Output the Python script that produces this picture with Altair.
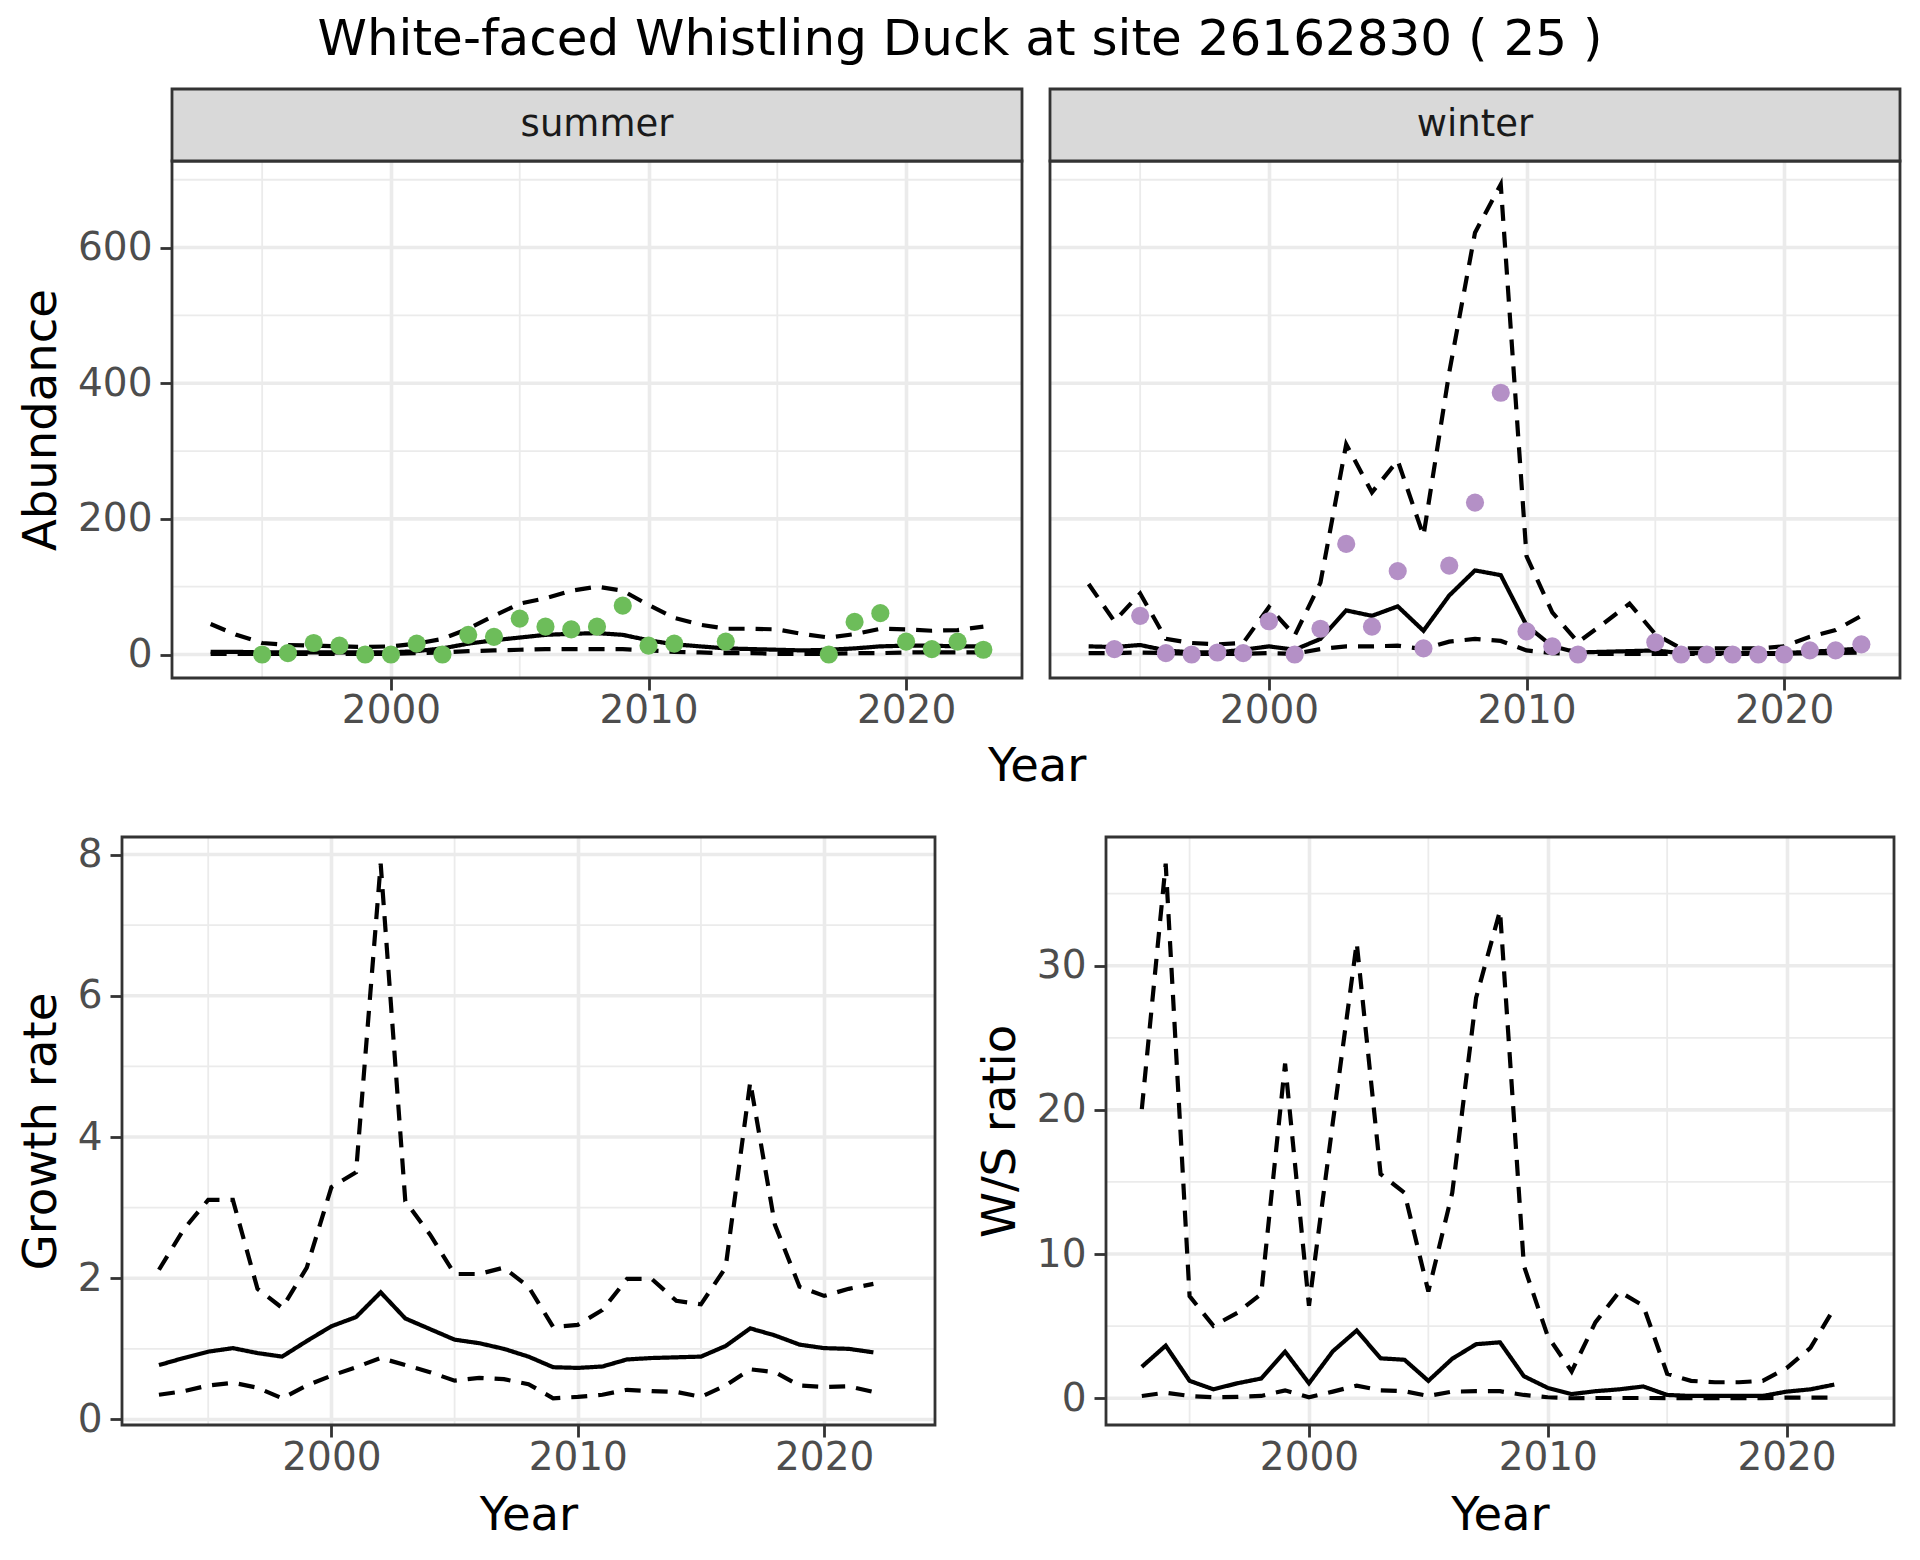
import altair as alt
import pandas as pd

FONT = "DejaVu Sans"

# ---------------- data ----------------
years = list(range(1993, 2024))

summer_mid = [4, 4, 3, 3, 3, 3, 3, 3, 5, 9, 16, 21, 25, 29, 30.5, 31.5, 29, 21, 15, 12,
              9, 8, 7, 6, 7, 9, 12, 13, 13, 12, 12]
summer_lo = [1, 1, 1, 1, 1, 1, 1, 1, 2, 3, 5, 6, 7, 8, 8, 8, 8, 6, 4, 3,
             2, 2, 1, 1, 1, 2, 2, 3, 3, 3, 3]
summer_hi = [45, 29, 17, 14, 13, 12, 11, 12, 16, 23, 38, 57, 75, 83, 94, 100, 94, 73, 54, 44,
             38, 38, 37, 30, 25, 30, 38, 37, 35, 36, 41]
summer_obs_years = [1995, 1996, 1997, 1998, 1999, 2000, 2001, 2002, 2003, 2004, 2005, 2006,
                    2007, 2008, 2009, 2010, 2011, 2013, 2017, 2018, 2019, 2020, 2021, 2022, 2023]
summer_obs = [0, 2, 17, 13, 0, 0, 16, 0, 29, 26, 53, 41, 37, 41, 72, 13, 16, 19, 0, 48, 61,
              19, 8, 19, 7]

winter_mid = [12, 11, 14, 6, 3, 3, 7, 12, 7, 23, 65, 57, 71, 35, 87, 124, 117, 43, 12, 3,
              4, 5, 6, 2, 2, 2, 2, 2, 4, 6, 9]
winter_lo = [2, 2, 3, 2, 1, 1, 1, 2, 1, 8, 12, 12, 13, 8, 19, 23, 20, 6, 2, 1,
             1, 1, 1, 1, 1, 1, 1, 1, 2, 2, 3]
winter_hi = [104, 49, 90, 23, 17, 15, 17, 70, 28, 106, 310, 239, 286, 175, 416, 622, 693, 145,
             62, 18, 46, 75, 30, 9, 9, 9, 9, 12, 26, 36, 57]
winter_obs_years = [1994, 1995, 1996, 1997, 1998, 1999, 2000, 2001, 2002, 2003, 2004, 2005,
                    2006, 2007, 2008, 2009, 2010, 2011, 2012, 2015, 2016, 2017, 2018, 2019,
                    2020, 2021, 2022, 2023]
winter_obs = [8, 57, 2, 0, 3, 2, 49, 0, 38, 163, 41, 123, 9, 131, 224, 386, 34, 12, 0,
              18, 0, 0, 0, 0, 0, 6, 6, 15]

rate_years = list(range(1993, 2023))
growth_mid = [0.77, 0.87, 0.96, 1.01, 0.94, 0.89, 1.11, 1.32, 1.45, 1.80, 1.43, 1.28, 1.13,
              1.08, 1.00, 0.89, 0.74, 0.73, 0.75, 0.85, 0.87, 0.88, 0.89, 1.04, 1.29, 1.19,
              1.06, 1.01, 1.00, 0.95]
growth_hi = [2.12, 2.69, 3.11, 3.11, 1.85, 1.58, 2.15, 3.29, 3.50, 7.87, 3.09, 2.62, 2.06,
             2.06, 2.15, 1.88, 1.31, 1.34, 1.55, 1.99, 1.99, 1.68, 1.63, 2.15, 4.78, 2.76,
             1.88, 1.75, 1.85, 1.92]
growth_lo = [0.35, 0.40, 0.48, 0.52, 0.45, 0.30, 0.48, 0.62, 0.74, 0.87, 0.77, 0.67, 0.55,
             0.59, 0.57, 0.50, 0.30, 0.32, 0.35, 0.42, 0.40, 0.39, 0.32, 0.48, 0.71, 0.67,
             0.48, 0.46, 0.47, 0.39]

ws_mid = [2.18, 3.65, 1.21, 0.62, 1.04, 1.37, 3.23, 1.04, 3.26, 4.70, 2.77, 2.67, 1.21, 2.74,
          3.75, 3.88, 1.53, 0.72, 0.29, 0.49, 0.62, 0.82, 0.23, 0.16, 0.16, 0.16, 0.16, 0.46,
          0.62, 0.95]
ws_hi = [20.05, 37.07, 7.08, 5.02, 5.93, 7.24, 23.21, 6.42, 19.14, 31.59, 15.55, 14.25, 7.40,
         14.25, 27.78, 33.81, 9.19, 4.30, 1.86, 5.28, 7.40, 6.42, 1.70, 1.21, 1.11, 1.11, 1.21,
         2.09, 3.49, 6.26]
ws_lo = [0.16, 0.39, 0.16, 0.07, 0.10, 0.16, 0.55, 0.07, 0.46, 0.88, 0.55, 0.49, 0.16, 0.46,
         0.49, 0.49, 0.23, 0.07, 0.00, 0.02, 0.02, 0.02, 0.01, 0.01, 0.01, 0.01, 0.01, 0.05,
         0.05, 0.05]

x_major = [2000, 2010, 2020]
x_minor = [1995, 2005, 2015]
x_domain = [1991.5, 2024.5]

abund_major = [0, 200, 400, 600]
abund_minor = [100, 300, 500, 700]
growth_major = [0, 2, 4, 6, 8]
growth_minor = [1, 3, 5, 7]
ws_major = [0, 10, 20, 30]
ws_minor = [5, 15, 25, 35]

TITLE = "White-faced Whistling Duck at site 26162830 ( 25 )"

# ---------------- styling helpers ----------------
GRID = "#EBEBEB"
DARK = "#333333"
LABEL = "#4D4D4D"
TICK_FS = 39
TITLE_FS = 46.5
STRIP_FS = 37
DASH = [16, 11]
LW = 4.2
BORDER = 2.8


def expand(*arrays):
    lo = min(min(a) for a in arrays)
    hi = max(max(a) for a in arrays)
    r = hi - lo
    return [lo - 0.05 * r, hi + 0.05 * r]


def long_lines(xs, mid, lo, hi):
    rows = []
    for band, vals in (("mid", mid), ("lo", lo), ("hi", hi)):
        for x, v in zip(xs, vals):
            rows.append({"Year": x, "value": v, "band": band})
    return pd.DataFrame(rows)


def panel(xs, mid, lo, hi, ymajor, yminor, ydomain, width, height,
          ytitle=None, show_y=True, xtitle="Year",
          obs_x=None, obs=None, color=None, strip=None, shift=0):
    """One ggplot-like panel.  `shift` leaves an empty band on the left of the
    view so the panel can sit further right than the column origin."""
    x0, x1 = shift, shift + width
    xscale = alt.Scale(domain=x_domain, range=[x0, x1], nice=False, zero=False)
    yscale = alt.Scale(domain=ydomain, nice=False, zero=False)

    def xaxis():
        return alt.Axis(values=x_major, format="d", grid=True, gridColor=GRID, gridWidth=3.6,
                        domain=False, ticks=True, tickSize=12, tickWidth=2.8,
                        tickColor=DARK, labelFontSize=TICK_FS, labelColor=LABEL,
                        labelPadding=1, labelFont=FONT,
                        title=xtitle if xtitle else None, titleFontSize=TITLE_FS,
                        titleFont=FONT, titleFontWeight="normal", titleColor="black",
                        titlePadding=15)

    def yaxis():
        if show_y:
            return alt.Axis(values=ymajor, grid=False, offset=-shift,
                            domain=False, ticks=True, tickSize=12, tickWidth=2.8,
                            tickColor=DARK, labelFontSize=TICK_FS, labelColor=LABEL,
                            labelPadding=8, labelFont=FONT,
                            title=ytitle, titleFontSize=TITLE_FS, titleFont=FONT,
                            titleFontWeight="normal", titleColor="black", titlePadding=12)
        return alt.Axis(values=ymajor, grid=False, domain=False, ticks=False,
                        labels=False, title=None)

    def X():
        return alt.X("Year:Q", scale=xscale, axis=xaxis())

    def Y():
        return alt.Y("value:Q", scale=yscale, axis=yaxis())

    minor_x = alt.Chart(pd.DataFrame({"Year": x_minor})).mark_rule(
        color=GRID, strokeWidth=1.8).encode(x=X())
    minor_y = alt.Chart(pd.DataFrame({"value": yminor})).mark_rule(
        color=GRID, strokeWidth=1.8).encode(y=Y(), x=alt.value(x0), x2=alt.value(x1))
    major_y = alt.Chart(pd.DataFrame({"value": ymajor})).mark_rule(
        color=GRID, strokeWidth=3.6).encode(y=Y(), x=alt.value(x0), x2=alt.value(x1))

    lines = alt.Chart(long_lines(xs, mid, lo, hi)).mark_line(
        color="black", strokeWidth=LW, strokeCap="butt").encode(
        x=X(), y=Y(), detail="band:N",
        strokeDash=alt.StrokeDash("band:N", legend=None,
                                  scale=alt.Scale(domain=["mid", "lo", "hi"],
                                                  range=[[1, 0], DASH, DASH])))
    layers = [minor_x, minor_y, major_y, lines]
    if obs is not None:
        pts = alt.Chart(pd.DataFrame({"Year": obs_x, "value": obs})).mark_circle(
            size=330, color=color, opacity=1).encode(x=X(), y=Y())
        layers.append(pts)

    frame_df = pd.DataFrame({"label": [strip if strip else ""]})
    border = alt.Chart(frame_df).mark_rect(fillOpacity=0, stroke=DARK,
                                           strokeWidth=BORDER).encode(
        x=alt.value(x0), x2=alt.value(x1), y=alt.value(0), y2=alt.value(height))
    layers.append(border)
    if strip is not None:
        rect = alt.Chart(frame_df).mark_rect(fill="#D9D9D9", stroke=DARK,
                                             strokeWidth=BORDER).encode(
            x=alt.value(x0), x2=alt.value(x1), y=alt.value(-72), y2=alt.value(0))
        txt = alt.Chart(frame_df).mark_text(fontSize=STRIP_FS, font=FONT, color="#1A1A1A",
                                            baseline="middle", align="center").encode(
            text="label:N", x=alt.value((x0 + x1) / 2), y=alt.value(-36))
        layers += [rect, txt]
    return alt.layer(*layers).properties(width=x1, height=height,
                                         view=alt.ViewBackground(strokeWidth=0))


abund_dom = expand(summer_mid, summer_lo, summer_hi, summer_obs,
                   winter_mid, winter_lo, winter_hi, winter_obs)

PW = 850
SHIFT = 50
summer = panel(years, summer_mid, summer_lo, summer_hi, abund_major, abund_minor, abund_dom,
               PW, 517, ytitle="Abundance", show_y=True, xtitle=None,
               obs_x=summer_obs_years, obs=summer_obs, color="#6DBD5A", strip="summer",
               shift=SHIFT)
winter = panel(years, winter_mid, winter_lo, winter_hi, abund_major, abund_minor, abund_dom,
               PW, 517, show_y=False, xtitle=None,
               obs_x=winter_obs_years, obs=winter_obs, color="#B490C6", strip="winter")

top = alt.hconcat(summer, winter, spacing=24).properties(
    title=alt.TitleParams("Year", orient="bottom", anchor="middle", frame="bounds",
                          fontSize=TITLE_FS, font=FONT, fontWeight="normal",
                          color="black", offset=14, dx=77))

growth = panel(rate_years, growth_mid, growth_lo, growth_hi, growth_major, growth_minor,
               expand(growth_mid, growth_lo, growth_hi), 813, 588,
               ytitle="Growth rate", show_y=True, xtitle="Year")
ws = panel(rate_years, ws_mid, ws_lo, ws_hi, ws_major, ws_minor,
           expand(ws_mid, ws_lo, ws_hi), 788, 588,
           ytitle="W/S ratio", show_y=True, xtitle="Year")

bottom = alt.hconcat(growth, ws, spacing=40)

chart = alt.vconcat(top, bottom, spacing=44).properties(
    title=alt.TitleParams(TITLE, anchor="middle", fontSize=50, font=FONT,
                          fontWeight="normal", color="black", offset=23),
    padding={"left": 10, "top": 6, "right": 5, "bottom": 5},
    background="white",
).configure(font=FONT)

chart.save("out.html", embed_options={"renderer": "svg", "actions": False})
